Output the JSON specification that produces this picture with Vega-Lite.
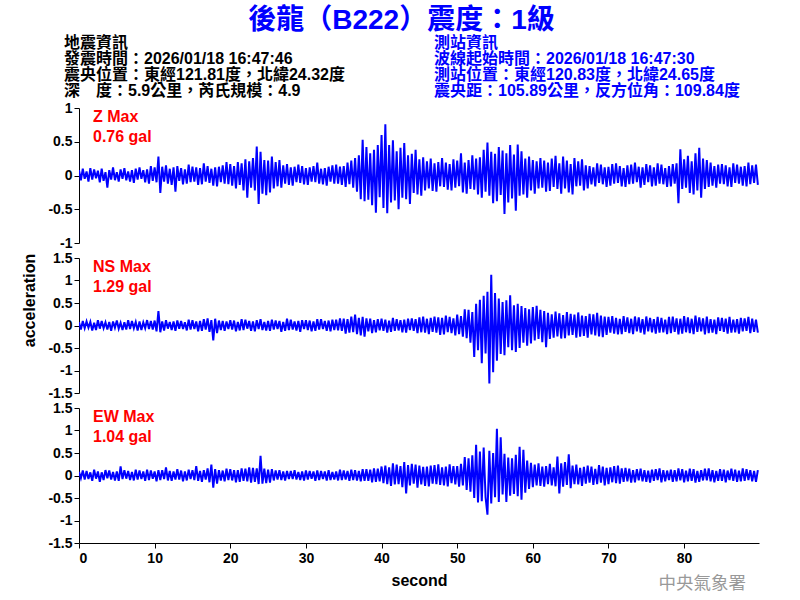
{
"$schema": "https://vega.github.io/schema/vega-lite/v6.json",
"background": "white",
"padding": {"left": 21, "top": 7, "right": 5, "bottom": 5},
"title": {"text": "後龍（B222）震度：1級", "color": "#0000FF", "fontSize": 28, "fontWeight": "bold", "font": "Liberation Sans, Noto Sans CJK TC", "anchor": "middle", "offset": -2, "dx": 11},
"config": {
  "view": {"stroke": null},
  "font": "Liberation Sans, Noto Sans CJK TC",
  "axis": {"grid": false, "labelOverlap": false, "labelFont": "Liberation Sans", "labelFontWeight": "bold", "labelFontSize": 14, "labelColor": "black", "domainColor": "black", "tickColor": "black", "tickSize": 5, "labelPadding": 2, "titleFont": "Liberation Sans", "titleFontSize": 16, "titleFontWeight": "bold", "titleColor": "black"}
},
"spacing": 15,
"bounds": "flush",
"datasets": {"w": [
{"t":0,"z":0.08,"n":0.07,"e":0.08},{"t":0.25,"z":-0.07,"n":-0.09,"e":-0.06},{"t":0.5,"z":0.10,"n":0.10,"e":0.11},{"t":0.75,"z":-0.05,"n":-0.06,"e":-0.09},
{"t":1,"z":0.06,"n":0.09,"e":0.10},{"t":1.25,"z":-0.09,"n":-0.05,"e":-0.08},{"t":1.5,"z":0.11,"n":0.08,"e":0.07},{"t":1.75,"z":-0.06,"n":-0.11,"e":-0.12},
{"t":2,"z":0.09,"n":0.06,"e":0.13},{"t":2.25,"z":-0.04,"n":-0.10,"e":-0.07},{"t":2.5,"z":0.07,"n":0.12,"e":0.09},{"t":2.75,"z":-0.10,"n":-0.07,"e":-0.14},
{"t":3,"z":0.10,"n":0.10,"e":0.07},{"t":3.25,"z":-0.08,"n":-0.06,"e":-0.10},{"t":3.5,"z":0.05,"n":0.07,"e":0.12},{"t":3.75,"z":-0.18,"n":-0.09,"e":-0.06},
{"t":4,"z":0.08,"n":0.08,"e":0.11},{"t":4.25,"z":-0.06,"n":-0.12,"e":-0.09},{"t":4.5,"z":0.12,"n":0.09,"e":0.08},{"t":4.75,"z":-0.07,"n":-0.05,"e":-0.11},
{"t":5,"z":0.05,"n":0.11,"e":0.09},{"t":5.25,"z":-0.09,"n":-0.07,"e":-0.12},{"t":5.5,"z":0.09,"n":0.06,"e":0.20},{"t":5.75,"z":-0.05,"n":-0.10,"e":-0.08},
{"t":6,"z":0.11,"n":0.07,"e":0.12},{"t":6.25,"z":-0.07,"n":-0.09,"e":-0.07},{"t":6.5,"z":0.06,"n":0.12,"e":0.10},{"t":6.75,"z":-0.09,"n":-0.08,"e":-0.10},
{"t":7,"z":0.08,"n":0.10,"e":0.08},{"t":7.25,"z":-0.11,"n":-0.06,"e":-0.11},{"t":7.5,"z":0.10,"n":0.08,"e":0.13},{"t":7.75,"z":-0.06,"n":-0.11,"e":-0.09},
{"t":8,"z":0.12,"n":0.09,"e":0.11},{"t":8.25,"z":-0.05,"n":-0.10,"e":-0.08},{"t":8.5,"z":0.08,"n":0.07,"e":0.09},{"t":8.75,"z":-0.10,"n":-0.06,"e":-0.12},
{"t":9,"z":0.09,"n":0.12,"e":0.13},{"t":9.25,"z":-0.12,"n":-0.08,"e":-0.10},{"t":9.5,"z":0.14,"n":0.10,"e":0.11},{"t":9.75,"z":-0.08,"n":-0.09,"e":-0.07},
{"t":10,"z":0.12,"n":0.11,"e":0.09},{"t":10.25,"z":-0.10,"n":-0.13,"e":-0.13},{"t":10.5,"z":0.28,"n":0.32,"e":0.12},{"t":10.75,"z":-0.26,"n":-0.15,"e":-0.10},
{"t":11,"z":0.13,"n":0.09,"e":0.12},{"t":11.25,"z":-0.09,"n":-0.11,"e":-0.08},{"t":11.5,"z":0.15,"n":0.12,"e":0.18},{"t":11.75,"z":-0.12,"n":-0.07,"e":-0.11},
{"t":12,"z":0.10,"n":0.08,"e":0.10},{"t":12.25,"z":-0.14,"n":-0.10,"e":-0.12},{"t":12.5,"z":0.12,"n":0.09,"e":0.09},{"t":12.75,"z":-0.24,"n":-0.12,"e":-0.09},
{"t":13,"z":0.14,"n":0.11,"e":0.14},{"t":13.25,"z":-0.08,"n":-0.07,"e":-0.09},{"t":13.5,"z":0.11,"n":0.10,"e":0.11},{"t":13.75,"z":-0.13,"n":-0.08,"e":-0.13},
{"t":14,"z":0.09,"n":0.07,"e":0.09},{"t":14.25,"z":-0.12,"n":-0.11,"e":-0.11},{"t":14.5,"z":0.16,"n":0.13,"e":0.13},{"t":14.75,"z":-0.10,"n":-0.09,"e":-0.08},
{"t":15,"z":0.13,"n":0.12,"e":0.12},{"t":15.25,"z":-0.09,"n":-0.08,"e":-0.10},{"t":15.5,"z":0.12,"n":0.09,"e":0.21},{"t":15.75,"z":-0.14,"n":-0.13,"e":-0.12},
{"t":16,"z":0.11,"n":0.10,"e":0.10},{"t":16.25,"z":-0.13,"n":-0.12,"e":-0.14},{"t":16.5,"z":0.18,"n":0.14,"e":0.12},{"t":16.75,"z":-0.09,"n":-0.09,"e":-0.09},
{"t":17,"z":0.14,"n":0.16,"e":0.16},{"t":17.25,"z":-0.11,"n":-0.14,"e":-0.15},{"t":17.5,"z":0.10,"n":0.12,"e":0.24},{"t":17.75,"z":-0.15,"n":-0.33,"e":-0.27},
{"t":18,"z":0.12,"n":0.15,"e":0.14},{"t":18.25,"z":-0.16,"n":-0.17,"e":-0.18},{"t":18.5,"z":0.13,"n":0.11,"e":0.12},{"t":18.75,"z":-0.10,"n":-0.10,"e":-0.11},
{"t":19,"z":0.15,"n":0.10,"e":0.11},{"t":19.25,"z":-0.12,"n":-0.12,"e":-0.13},{"t":19.5,"z":0.20,"n":0.09,"e":0.15},{"t":19.75,"z":-0.13,"n":-0.08,"e":-0.10},
{"t":20,"z":0.17,"n":0.12,"e":0.14},{"t":20.25,"z":-0.15,"n":-0.09,"e":-0.11},{"t":20.5,"z":0.14,"n":0.11,"e":0.12},{"t":20.75,"z":-0.19,"n":-0.13,"e":-0.15},
{"t":21,"z":0.20,"n":0.08,"e":0.12},{"t":21.25,"z":-0.14,"n":-0.11,"e":-0.14},{"t":21.5,"z":0.18,"n":0.14,"e":0.16},{"t":21.75,"z":-0.22,"n":-0.10,"e":-0.12},
{"t":22,"z":0.24,"n":0.13,"e":0.15},{"t":22.25,"z":-0.33,"n":-0.07,"e":-0.13},{"t":22.5,"z":0.21,"n":0.10,"e":0.18},{"t":22.75,"z":-0.18,"n":-0.12,"e":-0.16},
{"t":23,"z":0.26,"n":0.09,"e":0.17},{"t":23.25,"z":-0.22,"n":-0.13,"e":-0.14},{"t":23.5,"z":0.43,"n":0.12,"e":0.16},{"t":23.75,"z":-0.42,"n":-0.08,"e":-0.19},
{"t":24,"z":0.35,"n":0.14,"e":0.44},{"t":24.25,"z":-0.27,"n":-0.10,"e":-0.18},{"t":24.5,"z":0.23,"n":0.08,"e":0.15},{"t":24.75,"z":-0.29,"n":-0.11,"e":-0.17},
{"t":25,"z":0.22,"n":0.10,"e":0.13},{"t":25.25,"z":-0.25,"n":-0.12,"e":-0.16},{"t":25.5,"z":0.28,"n":0.13,"e":0.14},{"t":25.75,"z":-0.19,"n":-0.09,"e":-0.11},
{"t":26,"z":0.20,"n":0.11,"e":0.11},{"t":26.25,"z":-0.16,"n":-0.08,"e":-0.09},{"t":26.5,"z":0.23,"n":0.10,"e":0.12},{"t":26.75,"z":-0.18,"n":-0.14,"e":-0.10},
{"t":27,"z":0.15,"n":0.08,"e":0.09},{"t":27.25,"z":-0.12,"n":-0.12,"e":-0.11},{"t":27.5,"z":0.17,"n":0.15,"e":0.10},{"t":27.75,"z":-0.14,"n":-0.10,"e":-0.08},
{"t":28,"z":0.12,"n":0.13,"e":0.10},{"t":28.25,"z":-0.15,"n":-0.09,"e":-0.08},{"t":28.5,"z":0.13,"n":0.09,"e":0.12},{"t":28.75,"z":-0.10,"n":-0.11,"e":-0.09},
{"t":29,"z":0.16,"n":0.10,"e":0.08},{"t":29.25,"z":-0.11,"n":-0.14,"e":-0.10},{"t":29.5,"z":0.14,"n":0.12,"e":0.09},{"t":29.75,"z":-0.13,"n":-0.08,"e":-0.11},
{"t":30,"z":0.11,"n":0.12,"e":0.11},{"t":30.25,"z":-0.14,"n":-0.10,"e":-0.09},{"t":30.5,"z":0.12,"n":0.11,"e":0.10},{"t":30.75,"z":-0.09,"n":-0.13,"e":-0.07},
{"t":31,"z":0.14,"n":0.09,"e":0.09},{"t":31.25,"z":-0.10,"n":-0.12,"e":-0.12},{"t":31.5,"z":0.19,"n":0.14,"e":0.11},{"t":31.75,"z":-0.12,"n":-0.09,"e":-0.10},
{"t":32,"z":0.10,"n":0.14,"e":0.10},{"t":32.25,"z":-0.13,"n":-0.08,"e":-0.08},{"t":32.5,"z":0.11,"n":0.10,"e":0.09},{"t":32.75,"z":-0.15,"n":-0.12,"e":-0.11},
{"t":33,"z":0.13,"n":0.11,"e":0.12},{"t":33.25,"z":-0.09,"n":-0.13,"e":-0.10},{"t":33.5,"z":0.15,"n":0.13,"e":0.08},{"t":33.75,"z":-0.12,"n":-0.10,"e":-0.09},
{"t":34,"z":0.16,"n":0.13,"e":0.09},{"t":34.25,"z":-0.12,"n":-0.11,"e":-0.11},{"t":34.5,"z":0.13,"n":0.16,"e":0.13},{"t":34.75,"z":-0.14,"n":-0.12,"e":-0.10},
{"t":35,"z":0.14,"n":0.15,"e":0.11},{"t":35.25,"z":-0.17,"n":-0.18,"e":-0.09},{"t":35.5,"z":0.19,"n":0.14,"e":0.10},{"t":35.75,"z":-0.13,"n":-0.16,"e":-0.12},
{"t":36,"z":0.22,"n":0.20,"e":0.13},{"t":36.25,"z":-0.18,"n":-0.15,"e":-0.10},{"t":36.5,"z":0.26,"n":0.24,"e":0.12},{"t":36.75,"z":-0.24,"n":-0.19,"e":-0.11},
{"t":37,"z":0.30,"n":0.17,"e":0.10},{"t":37.25,"z":-0.35,"n":-0.22,"e":-0.13},{"t":37.5,"z":0.53,"n":0.19,"e":0.14},{"t":37.75,"z":-0.38,"n":-0.25,"e":-0.12},
{"t":38,"z":0.42,"n":0.16,"e":0.14},{"t":38.25,"z":-0.36,"n":-0.13,"e":-0.12},{"t":38.5,"z":0.33,"n":0.15,"e":0.13},{"t":38.75,"z":-0.44,"n":-0.17,"e":-0.15},
{"t":39,"z":0.38,"n":0.12,"e":0.16},{"t":39.25,"z":-0.55,"n":-0.15,"e":-0.14},{"t":39.5,"z":0.45,"n":0.14,"e":0.15},{"t":39.75,"z":-0.32,"n":-0.11,"e":-0.13},
{"t":40,"z":0.60,"n":0.15,"e":0.20},{"t":40.25,"z":-0.48,"n":-0.12,"e":-0.17},{"t":40.5,"z":0.76,"n":0.13,"e":0.22},{"t":40.75,"z":-0.56,"n":-0.16,"e":-0.19},
{"t":41,"z":0.45,"n":0.11,"e":0.18},{"t":41.25,"z":-0.40,"n":-0.14,"e":-0.23},{"t":41.5,"z":0.52,"n":0.17,"e":0.27},{"t":41.75,"z":-0.37,"n":-0.12,"e":-0.20},
{"t":42,"z":0.36,"n":0.14,"e":0.24},{"t":42.25,"z":-0.50,"n":-0.11,"e":-0.19},{"t":42.5,"z":0.41,"n":0.12,"e":0.21},{"t":42.75,"z":-0.33,"n":-0.15,"e":-0.26},
{"t":43,"z":0.48,"n":0.13,"e":0.30},{"t":43.25,"z":-0.35,"n":-0.16,"e":-0.40},{"t":43.5,"z":0.30,"n":0.15,"e":0.23},{"t":43.75,"z":-0.42,"n":-0.10,"e":-0.22},
{"t":44,"z":0.32,"n":0.16,"e":0.26},{"t":44.25,"z":-0.26,"n":-0.12,"e":-0.18},{"t":44.5,"z":0.38,"n":0.14,"e":0.24},{"t":44.75,"z":-0.28,"n":-0.17,"e":-0.27},
{"t":45,"z":0.24,"n":0.18,"e":0.22},{"t":45.25,"z":-0.30,"n":-0.15,"e":-0.20},{"t":45.5,"z":0.27,"n":0.20,"e":0.19},{"t":45.75,"z":-0.22,"n":-0.16,"e":-0.23},
{"t":46,"z":0.21,"n":0.15,"e":0.20},{"t":46.25,"z":-0.19,"n":-0.19,"e":-0.24},{"t":46.5,"z":0.25,"n":0.17,"e":0.22},{"t":46.75,"z":-0.23,"n":-0.14,"e":-0.18},
{"t":47,"z":0.18,"n":0.20,"e":0.23},{"t":47.25,"z":-0.24,"n":-0.16,"e":-0.19},{"t":47.5,"z":0.20,"n":0.18,"e":0.25},{"t":47.75,"z":-0.16,"n":-0.21,"e":-0.21},
{"t":48,"z":0.26,"n":0.17,"e":0.18},{"t":48.25,"z":-0.17,"n":-0.20,"e":-0.22},{"t":48.5,"z":0.19,"n":0.22,"e":0.20},{"t":48.75,"z":-0.21,"n":-0.15,"e":-0.24},
{"t":49,"z":0.17,"n":0.19,"e":0.25},{"t":49.25,"z":-0.22,"n":-0.17,"e":-0.17},{"t":49.5,"z":0.24,"n":0.16,"e":0.21},{"t":49.75,"z":-0.18,"n":-0.22,"e":-0.20},
{"t":50,"z":0.22,"n":0.24,"e":0.21},{"t":50.25,"z":-0.16,"n":-0.19,"e":-0.25},{"t":50.5,"z":0.33,"n":0.21,"e":0.26},{"t":50.75,"z":-0.25,"n":-0.25,"e":-0.22},
{"t":51,"z":0.19,"n":0.36,"e":0.41},{"t":51.25,"z":-0.27,"n":-0.28,"e":-0.32},{"t":51.5,"z":0.23,"n":0.35,"e":0.38},{"t":51.75,"z":-0.20,"n":-0.38,"e":-0.36},
{"t":52,"z":0.30,"n":0.30,"e":0.45},{"t":52.25,"z":-0.21,"n":-0.70,"e":-0.50},{"t":52.5,"z":0.25,"n":0.48,"e":0.68},{"t":52.75,"z":-0.28,"n":-0.55,"e":-0.60},
{"t":53,"z":0.27,"n":0.57,"e":0.53},{"t":53.25,"z":-0.33,"n":-0.84,"e":-0.57},{"t":53.5,"z":0.38,"n":0.66,"e":0.62},{"t":53.75,"z":-0.24,"n":-0.62,"e":-0.48},
{"t":54,"z":0.49,"n":0.75,"e":-0.87},{"t":54.25,"z":-0.30,"n":-1.29,"e":0.55},{"t":54.5,"z":0.35,"n":1.13,"e":-0.62},{"t":54.75,"z":-0.41,"n":-1.04,"e":0.50},
{"t":55,"z":0.32,"n":0.72,"e":-0.48},{"t":55.25,"z":-0.38,"n":-0.78,"e":1.04},{"t":55.5,"z":0.42,"n":0.60,"e":-0.59},{"t":55.75,"z":-0.29,"n":-0.63,"e":0.85},
{"t":56,"z":0.37,"n":0.52,"e":-0.42},{"t":56.25,"z":-0.57,"n":-0.66,"e":0.48},{"t":56.5,"z":0.33,"n":0.56,"e":-0.59},{"t":56.75,"z":-0.40,"n":-0.48,"e":0.40},
{"t":57,"z":0.45,"n":0.67,"e":-0.45},{"t":57.25,"z":-0.34,"n":-0.55,"e":0.38},{"t":57.5,"z":0.31,"n":0.45,"e":-0.41},{"t":57.75,"z":-0.52,"n":-0.59,"e":0.46},
{"t":58,"z":0.46,"n":0.48,"e":-0.46},{"t":58.25,"z":-0.30,"n":-0.50,"e":0.64},{"t":58.5,"z":0.36,"n":0.43,"e":-0.54},{"t":58.75,"z":-0.28,"n":-0.38,"e":0.57},
{"t":59,"z":0.25,"n":0.39,"e":-0.38},{"t":59.25,"z":-0.33,"n":-0.45,"e":0.33},{"t":59.5,"z":0.28,"n":0.36,"e":-0.30},{"t":59.75,"z":-0.22,"n":-0.40,"e":0.28},
{"t":60,"z":0.23,"n":0.41,"e":-0.26},{"t":60.25,"z":-0.27,"n":-0.33,"e":0.24},{"t":60.5,"z":0.21,"n":0.44,"e":-0.22},{"t":60.75,"z":-0.19,"n":-0.30,"e":0.27},
{"t":61,"z":0.26,"n":0.35,"e":-0.23},{"t":61.25,"z":-0.18,"n":-0.37,"e":0.20},{"t":61.5,"z":0.22,"n":0.32,"e":-0.25},{"t":61.75,"z":-0.24,"n":-0.48,"e":0.21},
{"t":62,"z":0.19,"n":0.28,"e":-0.19},{"t":62.25,"z":-0.23,"n":-0.30,"e":0.26},{"t":62.5,"z":0.25,"n":0.25,"e":-0.22},{"t":62.75,"z":-0.17,"n":-0.27,"e":0.18},
{"t":63,"z":0.29,"n":0.31,"e":-0.24},{"t":63.25,"z":-0.20,"n":-0.24,"e":0.42},{"t":63.5,"z":0.18,"n":0.27,"e":-0.40},{"t":63.75,"z":-0.27,"n":-0.29,"e":0.27},
{"t":64,"z":0.28,"n":0.23,"e":-0.25},{"t":64.25,"z":-0.19,"n":-0.28,"e":0.30},{"t":64.5,"z":0.22,"n":0.30,"e":-0.21},{"t":64.75,"z":-0.25,"n":-0.22,"e":0.47},
{"t":65,"z":0.17,"n":0.26,"e":-0.28},{"t":65.25,"z":-0.28,"n":-0.21,"e":0.22},{"t":65.5,"z":0.26,"n":0.24,"e":-0.19},{"t":65.75,"z":-0.16,"n":-0.27,"e":0.24},
{"t":66,"z":0.21,"n":0.29,"e":-0.20},{"t":66.25,"z":-0.15,"n":-0.25,"e":0.17},{"t":66.5,"z":0.24,"n":0.22,"e":-0.23},{"t":66.75,"z":-0.22,"n":-0.23,"e":0.19},
{"t":67,"z":0.15,"n":0.21,"e":-0.18},{"t":67.25,"z":-0.19,"n":-0.27,"e":0.22},{"t":67.5,"z":0.14,"n":0.26,"e":-0.16},{"t":67.75,"z":-0.13,"n":-0.20,"e":0.20},
{"t":68,"z":0.12,"n":0.25,"e":-0.21},{"t":68.25,"z":-0.16,"n":-0.22,"e":0.15},{"t":68.5,"z":0.18,"n":0.28,"e":-0.19},{"t":68.75,"z":-0.11,"n":-0.24,"e":0.23},
{"t":69,"z":0.16,"n":0.22,"e":-0.16},{"t":69.25,"z":-0.13,"n":-0.26,"e":0.20},{"t":69.5,"z":0.12,"n":0.20,"e":-0.22},{"t":69.75,"z":-0.17,"n":-0.21,"e":0.17},
{"t":70,"z":0.13,"n":0.19,"e":-0.19},{"t":70.25,"z":-0.15,"n":-0.16,"e":0.18},{"t":70.5,"z":0.17,"n":0.21,"e":-0.15},{"t":70.75,"z":-0.12,"n":-0.18,"e":0.21},
{"t":71,"z":0.18,"n":0.17,"e":-0.17},{"t":71.25,"z":-0.11,"n":-0.20,"e":0.22},{"t":71.5,"z":0.14,"n":0.15,"e":-0.18},{"t":71.75,"z":-0.16,"n":-0.19,"e":0.16},
{"t":72,"z":0.11,"n":0.21,"e":-0.14},{"t":72.25,"z":-0.17,"n":-0.14,"e":0.17},{"t":72.5,"z":0.15,"n":0.18,"e":-0.13},{"t":72.75,"z":-0.13,"n":-0.17,"e":0.15},
{"t":73,"z":0.16,"n":0.15,"e":-0.16},{"t":73.25,"z":-0.12,"n":-0.19,"e":0.12},{"t":73.5,"z":0.19,"n":0.20,"e":-0.15},{"t":73.75,"z":-0.10,"n":-0.13,"e":0.14},
{"t":74,"z":0.13,"n":0.18,"e":-0.11},{"t":74.25,"z":-0.18,"n":-0.16,"e":0.15},{"t":74.5,"z":0.12,"n":0.14,"e":-0.13},{"t":74.75,"z":-0.14,"n":-0.20,"e":0.12},
{"t":75,"z":0.17,"n":0.20,"e":-0.14},{"t":75.25,"z":-0.10,"n":-0.13,"e":0.11},{"t":75.5,"z":0.15,"n":0.17,"e":-0.16},{"t":75.75,"z":-0.16,"n":-0.15,"e":0.13},
{"t":76,"z":0.12,"n":0.14,"e":-0.12},{"t":76.25,"z":-0.15,"n":-0.18,"e":0.14},{"t":76.5,"z":0.18,"n":0.19,"e":-0.10},{"t":76.75,"z":-0.12,"n":-0.16,"e":0.16},
{"t":77,"z":0.16,"n":0.17,"e":-0.15},{"t":77.25,"z":-0.13,"n":-0.15,"e":0.12},{"t":77.5,"z":0.11,"n":0.13,"e":-0.13},{"t":77.75,"z":-0.17,"n":-0.19,"e":0.11},
{"t":78,"z":0.14,"n":0.19,"e":-0.10},{"t":78.25,"z":-0.16,"n":-0.17,"e":0.13},{"t":78.5,"z":0.17,"n":0.20,"e":-0.14},{"t":78.75,"z":-0.12,"n":-0.14,"e":0.12},
{"t":79,"z":0.18,"n":0.16,"e":-0.13},{"t":79.25,"z":-0.41,"n":-0.20,"e":0.16},{"t":79.5,"z":0.39,"n":0.15,"e":-0.11},{"t":79.75,"z":-0.20,"n":-0.18,"e":0.14},
{"t":80,"z":0.24,"n":0.21,"e":-0.15},{"t":80.25,"z":-0.18,"n":-0.15,"e":0.11},{"t":80.5,"z":0.29,"n":0.18,"e":-0.13},{"t":80.75,"z":-0.26,"n":-0.17,"e":0.15},
{"t":81,"z":0.21,"n":0.15,"e":-0.12},{"t":81.25,"z":-0.28,"n":-0.19,"e":0.14},{"t":81.5,"z":0.33,"n":0.22,"e":-0.16},{"t":81.75,"z":-0.22,"n":-0.14,"e":0.10},
{"t":82,"z":0.41,"n":0.18,"e":-0.14},{"t":82.25,"z":-0.33,"n":-0.13,"e":0.12},{"t":82.5,"z":0.25,"n":0.16,"e":-0.11},{"t":82.75,"z":-0.20,"n":-0.20,"e":0.15},
{"t":83,"z":0.23,"n":0.20,"e":-0.11},{"t":83.25,"z":-0.17,"n":-0.17,"e":0.16},{"t":83.5,"z":0.19,"n":0.14,"e":-0.13},{"t":83.75,"z":-0.15,"n":-0.16,"e":0.12},
{"t":84,"z":0.14,"n":0.13,"e":-0.15},{"t":84.25,"z":-0.18,"n":-0.19,"e":0.10},{"t":84.5,"z":0.16,"n":0.18,"e":-0.12},{"t":84.75,"z":-0.12,"n":-0.12,"e":0.14},
{"t":85,"z":0.17,"n":0.17,"e":-0.12},{"t":85.25,"z":-0.13,"n":-0.14,"e":0.13},{"t":85.5,"z":0.15,"n":0.15,"e":-0.15},{"t":85.75,"z":-0.16,"n":-0.18,"e":0.11},
{"t":86,"z":0.12,"n":0.19,"e":-0.10},{"t":86.25,"z":-0.17,"n":-0.16,"e":0.15},{"t":86.5,"z":0.18,"n":0.13,"e":-0.12},{"t":86.75,"z":-0.11,"n":-0.15,"e":0.13},
{"t":87,"z":0.16,"n":0.14,"e":-0.14},{"t":87.25,"z":-0.12,"n":-0.18,"e":0.11},{"t":87.5,"z":0.13,"n":0.17,"e":-0.13},{"t":87.75,"z":-0.15,"n":-0.13,"e":0.16},
{"t":88,"z":0.14,"n":0.16,"e":-0.12},{"t":88.25,"z":-0.16,"n":-0.12,"e":0.14},{"t":88.5,"z":0.19,"n":0.19,"e":-0.10},{"t":88.75,"z":-0.13,"n":-0.17,"e":0.12},
{"t":89,"z":0.15,"n":0.15,"e":-0.13},{"t":89.25,"z":-0.11,"n":-0.14,"e":0.10},{"t":89.5,"z":0.16,"n":0.13,"e":-0.14},{"t":89.75,"z":-0.14,"n":-0.16,"e":0.12}
]},
"vconcat": [
  {
    "width": 680, "height": 60,
    "data": {"values": [
      {"c":"a","r":0,"s":"地震資訊"},
      {"c":"a","r":1,"s":"發震時間：2026/01/18 16:47:46"},
      {"c":"a","r":2,"s":"震央位置：東經121.81度，北緯24.32度"},
      {"c":"a","r":3,"s":"深　度：5.9公里，芮氏規模：4.9"},
      {"c":"b","r":0,"s":"測站資訊"},
      {"c":"b","r":1,"s":"波線起始時間：2026/01/18 16:47:30"},
      {"c":"b","r":2,"s":"測站位置：東經120.83度，北緯24.65度"},
      {"c":"b","r":3,"s":"震央距：105.89公里，反方位角：109.84度"}
    ]},
    "mark": {"type": "text", "align": "left", "baseline": "middle", "fontSize": 16, "fontWeight": "bold", "font": "Liberation Sans, Noto Sans CJK TC"},
    "encoding": {
      "x": {"field": "c", "type": "nominal", "scale": {"type": "point", "domain": ["a","b"], "range": [-15, 355], "padding": 0}, "axis": null},
      "y": {"field": "r", "type": "ordinal", "scale": {"type": "point", "range": [10, 58], "padding": 0}, "axis": null},
      "color": {"field": "c", "type": "nominal", "scale": {"domain": ["a","b"], "range": ["#000000", "#0000FF"]}, "legend": null},
      "text": {"field": "s"}
    }
  },
  {
    "width": 680, "height": 135,
    "data": {"name": "w"},
    "layer": [
      {"mark": {"type": "line", "color": "#0000FF", "strokeWidth": 2, "clip": true},
       "encoding": {
         "x": {"field": "t", "type": "quantitative", "scale": {"domain": [0, 89.9], "nice": false, "zero": false}, "axis": null},
         "y": {"field": "z", "type": "quantitative", "scale": {"domain": [-1, 1], "nice": false}, "axis": {"values": [-1,-0.5,0,0.5,1], "title": null, "labelOverlap": false, "labelFontSize": 14, "labelExpr": "'' + datum.value"}}
       }},
      {"data": {"values": [{"lab": ["Z Max", "0.76 gal"]}]},
       "mark": {"type": "text", "color": "#FF0000", "fontSize": 16, "fontWeight": "bold", "font": "Liberation Sans", "align": "left", "baseline": "top", "dx": 14, "dy": 1, "lineHeight": 20},
       "encoding": {
         "x": {"datum": 0, "type": "quantitative", "axis": null},
         "y": {"datum": 1, "type": "quantitative", "axis": {"values": [-1,-0.5,0,0.5,1], "title": null, "labelOverlap": false, "labelFontSize": 14, "labelExpr": "'' + datum.value"}},
         "text": {"field": "lab"}}}
    ]
  },
  {
    "width": 680, "height": 135,
    "data": {"name": "w"},
    "layer": [
      {"mark": {"type": "line", "color": "#0000FF", "strokeWidth": 2, "clip": true},
       "encoding": {
         "x": {"field": "t", "type": "quantitative", "scale": {"domain": [0, 89.9], "nice": false, "zero": false}, "axis": null},
         "y": {"field": "n", "type": "quantitative", "scale": {"domain": [-1.5, 1.5], "nice": false}, "axis": {"values": [-1.5,-1,-0.5,0,0.5,1,1.5], "title": "acceleration", "titleY": 42, "titlePadding": 10, "labelOverlap": false, "labelFontSize": 14, "labelExpr": "'' + datum.value"}}
       }},
      {"data": {"values": [{"lab": ["NS Max", "1.29 gal"]}]},
       "mark": {"type": "text", "color": "#FF0000", "fontSize": 16, "fontWeight": "bold", "font": "Liberation Sans", "align": "left", "baseline": "top", "dx": 14, "dy": 1, "lineHeight": 20},
       "encoding": {
         "x": {"datum": 0, "type": "quantitative", "axis": null},
         "y": {"datum": 1.5, "type": "quantitative", "axis": {"values": [-1.5,-1,-0.5,0,0.5,1,1.5], "title": "acceleration", "titleY": 42, "titlePadding": 10, "labelOverlap": false, "labelFontSize": 14, "labelExpr": "'' + datum.value"}},
         "text": {"field": "lab"}}}
    ]
  },
  {
    "width": 680, "height": 135,
    "data": {"name": "w"},
    "layer": [
      {"mark": {"type": "line", "color": "#0000FF", "strokeWidth": 2, "clip": true},
       "encoding": {
         "x": {"field": "t", "type": "quantitative", "scale": {"domain": [0, 89.9], "nice": false, "zero": false}, "axis": {"values": [0,10,20,30,40,50,60,70,80], "title": "second", "labelPadding": 3, "titlePadding": 7}},
         "y": {"field": "e", "type": "quantitative", "scale": {"domain": [-1.5, 1.5], "nice": false}, "axis": {"values": [-1.5,-1,-0.5,0,0.5,1,1.5], "title": null, "labelOverlap": false, "labelFontSize": 14, "labelExpr": "'' + datum.value"}}
       }},
      {"data": {"values": [{"lab": ["EW Max", "1.04 gal"]}]},
       "mark": {"type": "text", "color": "#FF0000", "fontSize": 16, "fontWeight": "bold", "font": "Liberation Sans", "align": "left", "baseline": "top", "dx": 14, "dy": 1, "lineHeight": 20},
       "encoding": {
         "x": {"datum": 0, "type": "quantitative", "axis": {"values": [0,10,20,30,40,50,60,70,80], "title": "second", "labelPadding": 3, "titlePadding": 7}},
         "y": {"datum": 1.5, "type": "quantitative", "axis": {"values": [-1.5,-1,-0.5,0,0.5,1,1.5], "title": null, "labelOverlap": false, "labelFontSize": 14, "labelExpr": "'' + datum.value"}},
         "text": {"field": "lab"}}},
      {"data": {"values": [{"wm": "中央氣象署"}]},
       "mark": {"type": "text", "color": "#999999", "fontSize": 17.5, "font": "Noto Sans CJK TC", "letterSpacing": 1, "align": "right", "baseline": "middle", "dx": -13, "dy": 41},
       "encoding": {
         "x": {"datum": 89.9, "type": "quantitative", "axis": {"values": [0,10,20,30,40,50,60,70,80], "title": "second", "labelPadding": 3, "titlePadding": 7}},
         "y": {"datum": -1.5, "type": "quantitative", "axis": {"values": [-1.5,-1,-0.5,0,0.5,1,1.5], "title": null, "labelOverlap": false, "labelFontSize": 14, "labelExpr": "'' + datum.value"}},
         "text": {"field": "wm"}}}
    ]
  }
]
}
